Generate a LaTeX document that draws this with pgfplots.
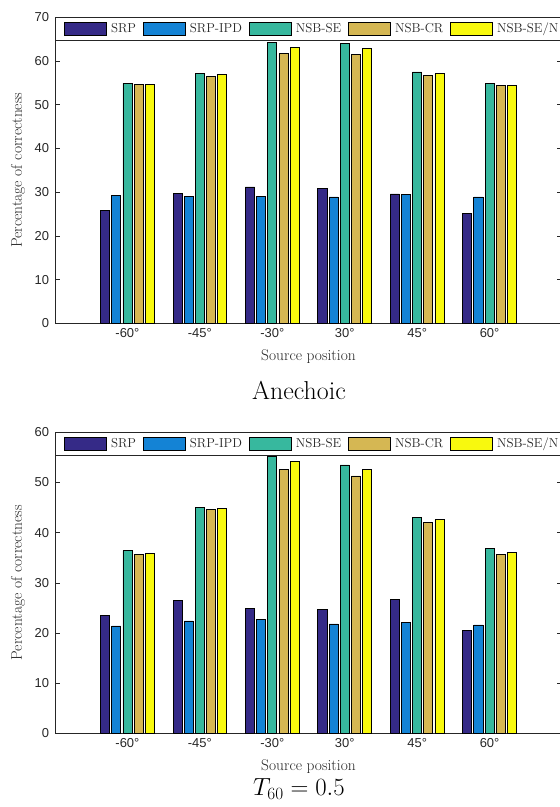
\documentclass[border=0pt]{standalone}
\usepackage{fontspec}
\usepackage{pgfplots}
\pgfplotsset{compat=1.18}
\newfontfamily\hel{Liberation Sans}
\definecolor{c1}{RGB}{53,42,135}
\definecolor{c2}{RGB}{20,131,213}
\definecolor{c3}{RGB}{55,184,158}
\definecolor{c4}{RGB}{213,183,83}
\definecolor{c5}{RGB}{248,249,14}
\definecolor{ax}{RGB}{38,38,38}
\pgfplotsset{
  bars/.style={fill=#1, draw=black, line width=0.8bp,
    legend image code/.code={\draw[fill=#1,draw=black,line width=0.8bp] (0bp,-6.25bp) rectangle (42bp,6.25bp);}},
  common/.style={
    ybar, scale only axis, width=507bp,
    xmin=0, xmax=7, xtick={1,2,3,4,5,6},
    xticklabels={-60°,-45°,-30°,30°,45°,60°},
    bar width=0.125,
    axis line style={draw=ax, line width=0.6bp},
    major tick length=5bp, tick align=inside,
    ytick style={draw=ax, line width=0.6bp},
    xtick style={draw=none},
    ytick pos=both,
    /pgf/number format/assume math mode=true,
    tick label style={font=\hel\fontsize{13}{15}\selectfont, text=ax},
    xticklabel style={anchor=center, yshift=-9.5bp},
    yticklabel style={xshift=-2.5bp},
    every axis x label/.style={at={(axis description cs:0.5,0)}, anchor=center, yshift=-33bp, font=\fontsize{15.5}{17}\selectfont, text=ax},
    every axis y label/.style={at={(axis description cs:0,0.5)}, rotate=90, anchor=center, yshift=37bp, font=\fontsize{15.5}{17}\selectfont, text=ax},
    xlabel={Source position},
    ylabel={Percentage of correctness},
    legend columns=5,
    legend style={at={(0,1)}, anchor=north west, draw=ax, line width=0.6bp,
      font=\fontsize{13}{15}\selectfont, text=ax, inner xsep=9bp, inner ysep=4.5bp,
      nodes={inner sep=0bp},
      /tikz/every odd column/.append style={column sep=4bp},
      /tikz/every even column/.append style={column sep=7bp}},
    legend cell align=left,
  }
}
\begin{document}
\begin{tikzpicture}
\begin{axis}[common, at={(55bp,-323.3bp)}, anchor=south west, height=306bp,
  ymin=0, ymax=70, ytick={0,10,...,70}]
\addplot[bars=c1, bar shift=-0.308] coordinates {(1,25.9) (2,29.7) (3,31.2) (4,30.9) (5,29.6) (6,25.2)};
\addplot[bars=c2, bar shift=-0.154] coordinates {(1,29.3) (2,29.1) (3,29.1) (4,28.9) (5,29.4) (6,28.9)};
\addplot[bars=c3, bar shift=0] coordinates {(1,54.9) (2,57.2) (3,64.3) (4,64.0) (5,57.5) (6,54.8)};
\addplot[bars=c4, bar shift=0.154] coordinates {(1,54.6) (2,56.5) (3,61.7) (4,61.4) (5,56.7) (6,54.4)};
\addplot[bars=c5, bar shift=0.308] coordinates {(1,54.7) (2,56.9) (3,63.2) (4,62.9) (5,57.1) (6,54.4)};
\legend{SRP,SRP-IPD,NSB-SE,NSB-CR,NSB-SE/N\hspace*{40bp}}
\end{axis}
\begin{axis}[common, at={(55bp,-733.3bp)}, anchor=south west, height=301bp,
  ymin=0, ymax=60, ytick={0,10,...,60}]
\addplot[bars=c1, bar shift=-0.308] coordinates {(1,23.5) (2,26.5) (3,24.9) (4,24.7) (5,26.7) (6,20.5)};
\addplot[bars=c2, bar shift=-0.154] coordinates {(1,21.4) (2,22.4) (3,22.7) (4,21.8) (5,22.1) (6,21.6)};
\addplot[bars=c3, bar shift=0] coordinates {(1,36.4) (2,45.0) (3,55.1) (4,53.5) (5,43.0) (6,36.8)};
\addplot[bars=c4, bar shift=0.154] coordinates {(1,35.7) (2,44.7) (3,52.6) (4,51.3) (5,42.0) (6,35.7)};
\addplot[bars=c5, bar shift=0.308] coordinates {(1,35.9) (2,44.8) (3,54.2) (4,52.6) (5,42.6) (6,36.1)};
\legend{SRP,SRP-IPD,NSB-SE,NSB-CR,NSB-SE/N\hspace*{40bp}}
\end{axis}
\node[font=\fontsize{26}{30}\selectfont] at (299bp,-390bp) {Anechoic};
\node[font=\fontsize{26}{30}\selectfont] at (299bp,-789bp) {$T_{60} = 0.5$};
\pgfresetboundingbox
\path[use as bounding box] (0bp,0bp) rectangle (560bp,-807bp);
\end{tikzpicture}
\end{document}
